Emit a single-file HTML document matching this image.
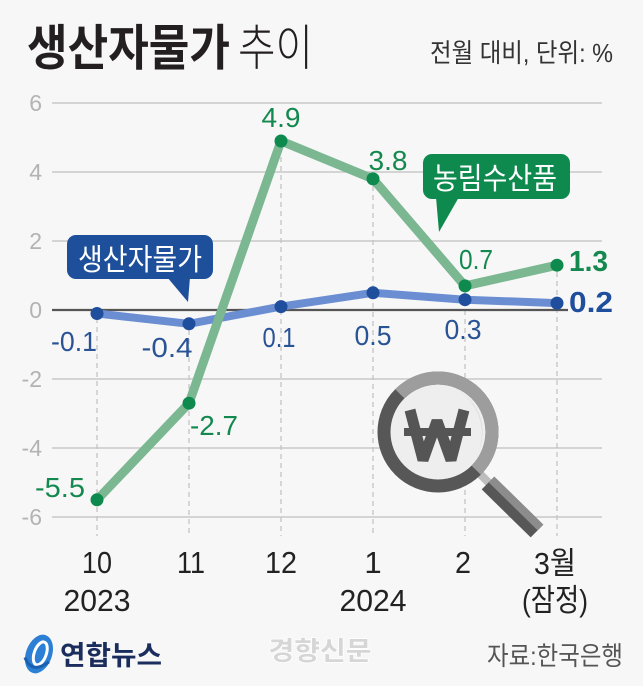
<!DOCTYPE html>
<html>
<head>
<meta charset="utf-8">
<style>
html,body{margin:0;padding:0;background:#f7f7f7;}
svg{display:block;}
text{font-family:"Liberation Sans","Noto Sans CJK KR",sans-serif;}
</style>
</head>
<body>
<svg width="643" height="686" viewBox="0 0 643 686" xmlns="http://www.w3.org/2000/svg">
<rect x="0" y="0" width="643" height="686" fill="#f7f7f7"/>

<!-- Title -->
<text x="27" y="65" font-size="49" font-weight="700" fill="#231f20" textLength="203" lengthAdjust="spacingAndGlyphs">생산자물가</text>
<text x="238" y="65" font-size="49" font-weight="300" fill="#231f20" textLength="75" lengthAdjust="spacingAndGlyphs">추이</text>
<text x="430" y="62" font-size="26" fill="#333" textLength="183" lengthAdjust="spacingAndGlyphs">전월 대비, 단위: %</text>

<!-- gridlines -->
<g stroke="#c9c9c9" stroke-width="1.5">
<line x1="52" y1="103" x2="602" y2="103"/>
<line x1="52" y1="172" x2="602" y2="172"/>
<line x1="52" y1="241" x2="602" y2="241"/>
<line x1="52" y1="379" x2="602" y2="379"/>
<line x1="52" y1="448" x2="602" y2="448"/>
<line x1="52" y1="517" x2="602" y2="517"/>
</g>

<!-- y labels -->
<g font-size="23" fill="#b3b3b3" text-anchor="end">
<text x="42" y="111">6</text>
<text x="42" y="180">4</text>
<text x="42" y="249">2</text>
<text x="42" y="318">0</text>
<text x="42" y="387">-2</text>
<text x="42" y="456">-4</text>
<text x="42" y="525">-6</text>
</g>

<!-- dashed verticals -->
<g stroke="#c4c4c4" stroke-width="1.3" stroke-dasharray="5,4">
<line x1="97" y1="318" x2="97" y2="536"/>
<line x1="189" y1="330" x2="189" y2="536"/>
<line x1="281" y1="148" x2="281" y2="536"/>
<line x1="373" y1="186" x2="373" y2="536"/>
<line x1="465" y1="292" x2="465" y2="536"/>
<line x1="557" y1="272" x2="557" y2="536"/>
</g>

<!-- zero line -->
<line x1="52" y1="310" x2="568" y2="310" stroke="#555" stroke-width="2.2"/>

<!-- blue series line -->
<polyline points="97,313.5 189,323.8 281,306.6 373,292.8 465,299.7 557,303.1" fill="none" stroke="#6b8ed2" stroke-width="8" stroke-linejoin="round"/>
<!-- green series line -->
<polyline points="97,499.8 189,403.2 281,141 373,178.9 465,285.9 557,265.2" fill="none" stroke="#7bb791" stroke-width="9" stroke-linejoin="round"/>

<!-- points -->
<g fill="#1f4e9c">
<circle cx="97" cy="313.5" r="6.5"/>
<circle cx="189" cy="323.8" r="6.5"/>
<circle cx="281" cy="306.6" r="6.5"/>
<circle cx="373" cy="292.8" r="6.5"/>
<circle cx="465" cy="299.7" r="6.5"/>
<circle cx="557" cy="303.1" r="6.5"/>
</g>
<g fill="#0e8a4e">
<circle cx="97" cy="499.8" r="6.5"/>
<circle cx="189" cy="403.2" r="6.5"/>
<circle cx="281" cy="141" r="6.5"/>
<circle cx="373" cy="178.9" r="6.5"/>
<circle cx="465" cy="285.9" r="6.5"/>
<circle cx="557" cy="265.2" r="6.5"/>
</g>

<!-- green value labels -->
<g font-size="28" fill="#14894f" text-anchor="middle">
<text x="281" y="127" textLength="39" lengthAdjust="spacingAndGlyphs">4.9</text>
<text x="388" y="170" textLength="39" lengthAdjust="spacingAndGlyphs">3.8</text>
<text x="476" y="269" textLength="34" lengthAdjust="spacingAndGlyphs">0.7</text>
<text x="214" y="435" textLength="48" lengthAdjust="spacingAndGlyphs">-2.7</text>
<text x="60" y="497" textLength="50" lengthAdjust="spacingAndGlyphs">-5.5</text>
</g>
<text x="569" y="271" font-size="29" font-weight="700" fill="#14894f" textLength="39" lengthAdjust="spacingAndGlyphs">1.3</text>

<!-- blue value labels -->
<g font-size="28" fill="#2a5396" text-anchor="middle">
<text x="74" y="351" textLength="46" lengthAdjust="spacingAndGlyphs">-0.1</text>
<text x="167" y="357" textLength="51" lengthAdjust="spacingAndGlyphs">-0.4</text>
<text x="279" y="347" textLength="33" lengthAdjust="spacingAndGlyphs">0.1</text>
<text x="373" y="345" textLength="37" lengthAdjust="spacingAndGlyphs">0.5</text>
<text x="463" y="339" textLength="37" lengthAdjust="spacingAndGlyphs">0.3</text>
</g>
<text x="569" y="312" font-size="29" font-weight="700" fill="#1f4e9c" textLength="44" lengthAdjust="spacingAndGlyphs">0.2</text>

<!-- blue callout -->
<rect x="67" y="235" width="146" height="44" rx="9" fill="#1e4f9b"/>
<polygon points="167,277 190,277 188,302" fill="#1e4f9b"/>
<text x="140" y="270" font-size="30" fill="#fff" text-anchor="middle" textLength="124" lengthAdjust="spacingAndGlyphs">생산자물가</text>

<!-- green callout -->
<rect x="423" y="154" width="147" height="45" rx="9" fill="#0f8a4f"/>
<polygon points="436,197 459,197 439,232" fill="#0f8a4f"/>
<text x="495" y="189" font-size="30" fill="#fff" text-anchor="middle" textLength="124" lengthAdjust="spacingAndGlyphs">농림수산품</text>

<!-- magnifier -->
<line x1="473" y1="467" x2="491" y2="485" stroke="#bdbdbd" stroke-width="8"/>
<line x1="488" y1="483" x2="537" y2="531" stroke="#575757" stroke-width="18"/>
<line x1="491.5" y1="479.5" x2="540.5" y2="527.5" stroke="#8c8c8c" stroke-width="8"/>
<circle cx="438" cy="432" r="48" fill="#eeeeee"/>
<path d="M 460 392 A 46 46 0 0 1 478 452 A 50 50 0 0 0 460 392 Z" fill="#e2e2e2"/>
<circle cx="438" cy="432" r="54" fill="none" stroke="#575757" stroke-width="13"/>
<path d="M 399.8 393.8 A 54 54 0 0 1 476.2 470.2" fill="none" stroke="#9d9d9d" stroke-width="13"/>
<polyline points="410,410 423,460 437,421 451,460 464,410" fill="none" stroke="#555" stroke-width="11" stroke-linejoin="miter" stroke-miterlimit="2"/>
<rect x="404" y="428" width="67" height="8" fill="#555"/>

<!-- x labels -->
<g font-size="31" fill="#222" text-anchor="middle">
<text x="97" y="573" textLength="30" lengthAdjust="spacingAndGlyphs">10</text>
<text x="191" y="573" textLength="28" lengthAdjust="spacingAndGlyphs">11</text>
<text x="281" y="573" textLength="32" lengthAdjust="spacingAndGlyphs">12</text>
<text x="373" y="573">1</text>
<text x="463" y="573" textLength="16" lengthAdjust="spacingAndGlyphs">2</text>
<text x="555" y="574" textLength="42" lengthAdjust="spacingAndGlyphs">3월</text>
<text x="97" y="611" textLength="67" lengthAdjust="spacingAndGlyphs">2023</text>
<text x="373" y="611" textLength="67" lengthAdjust="spacingAndGlyphs">2024</text>
<text x="555" y="611" textLength="66" lengthAdjust="spacingAndGlyphs">(잠정)</text>
</g>

<!-- footer -->
<g transform="translate(39,654) rotate(20)">
<ellipse cx="0" cy="0" rx="13" ry="20" fill="#2b7fd4"/>
<ellipse cx="1" cy="-1" rx="6" ry="12" fill="none" stroke="#fff" stroke-width="3"/>
<path d="M -12 8 Q 0 22 12 4" fill="none" stroke="#1a5fb0" stroke-width="3"/>
</g>
<text x="60" y="665" font-size="27" font-weight="700" fill="#1b2d5c" textLength="102" lengthAdjust="spacingAndGlyphs">연합뉴스</text>
<text x="320" y="660" font-size="26" font-weight="700" fill="#d6d6d6" stroke="#ffffff" stroke-width="1.5" paint-order="stroke" text-anchor="middle" textLength="103" lengthAdjust="spacingAndGlyphs">경향신문</text>
<text x="487" y="665" font-size="26" fill="#555" textLength="136" lengthAdjust="spacingAndGlyphs">자료:한국은행</text>
</svg>
</body>
</html>
